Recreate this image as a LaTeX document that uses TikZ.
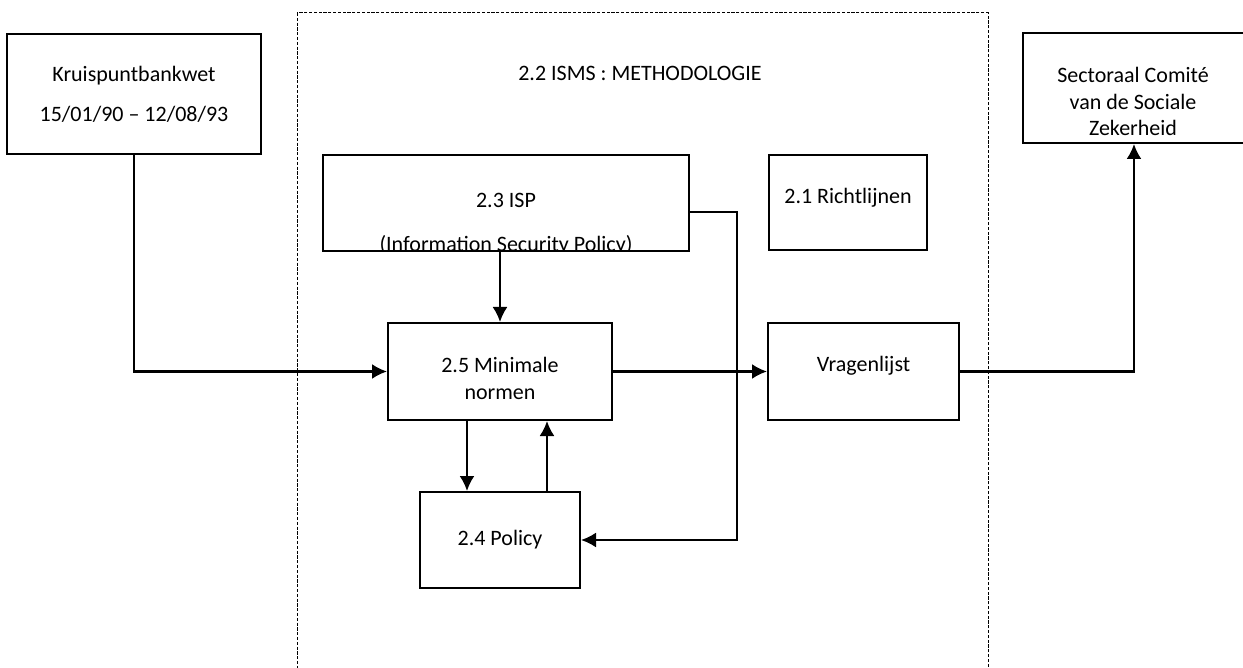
\documentclass[tikz,border=0pt]{standalone}
\usepackage{fontspec}
\setmainfont{Carlito}
\usepackage{tikz}
\usetikzlibrary{calc}
\usetikzlibrary{arrows.meta}
\tikzset{
	blok/.style={rectangle, draw=black, line width=1pt, align=center, font=\fontsize{11}{13.4}\selectfont},
	pijl/.style={->, line width=1.1pt},
}
\begin{document}
\begin{tikzpicture}[>={Latex[length=7.5pt,width=7.5pt]}, x=0.5pt, y=-0.5pt, font=\fontsize{11}{13.4}\selectfont]
			\useasboundingbox (0,0) rectangle (1243,668);
			%methodologie kader
			\draw [dashed, dash pattern=on 1.6pt off 0.8pt, line width=0.5pt] (297,13) rectangle (988,700);
			\node at (640,73) (isms) [] {2.2 ISMS : METHODOLOGIE};

			%elements
			\node at (134,94) (kbw) [blok, minimum width=127pt, minimum height=60pt] {Kruispuntbankwet\\[6.6pt]15/01/90 -- 12/08/93};
			\node at (1134,88) (sczh) [blok, minimum width=111pt, minimum height=55pt] {};
			\node at (1133,101.5) (sczhtxt) [align=center] {Sectoraal Comité\\van de Sociale\\Zekerheid};
			\node at (506,203) (isp) [blok, minimum width=183pt, minimum height=48pt] {};
			\begin{scope}
				\clip (isp.south west) rectangle (isp.north east);
				\node at (506,224) (isptxt) [align=center] {2.3 ISP\\[8.6pt](Information Security Policy)};
			\end{scope}
			\node at (848,202.5) (rl) [blok, minimum width=79pt, minimum height=47.5pt] {};
			\node at (848,198) (rltxt) [] {2.1 Richtlijnen};
			\node at (500,371.5) (mn) [blok, minimum width=112pt, minimum height=48.5pt] {};
			\node at (500,378.5) (mntxt) [align=center] {2.5 Minimale\\normen};
			\node at (863.5,371.5) (vl) [blok, minimum width=95.5pt, minimum height=48.5pt] {};
			\node at (863.5,366) (vltxt) [] {Vragenlijst};
			\node at (500,540) (pol) [blok, minimum width=80pt, minimum height=48pt] {2.4 Policy};

			%verbindingen
			\coordinate (bocht) at (737,212);
			\draw [pijl] (kbw.south) |- (mn.west);
			\draw [pijl] (mn.north |- isp.south) -- (mn.north);
			\draw [pijl] (isp.east |- bocht) -- (bocht) |- (pol.east);
			\draw [pijl] (mn.east) -- (vl.west);
			\draw [pijl] (vl.east) -| (sczh.south);
			\draw [pijl] ($(mn.south)+(-33,0)$) -- ($(pol.north)+(-33,0)$);
			\draw [pijl] ($(pol.north)+(47,0)$) -- ($(mn.south)+(47,0)$);
		\end{tikzpicture}
\end{document}
